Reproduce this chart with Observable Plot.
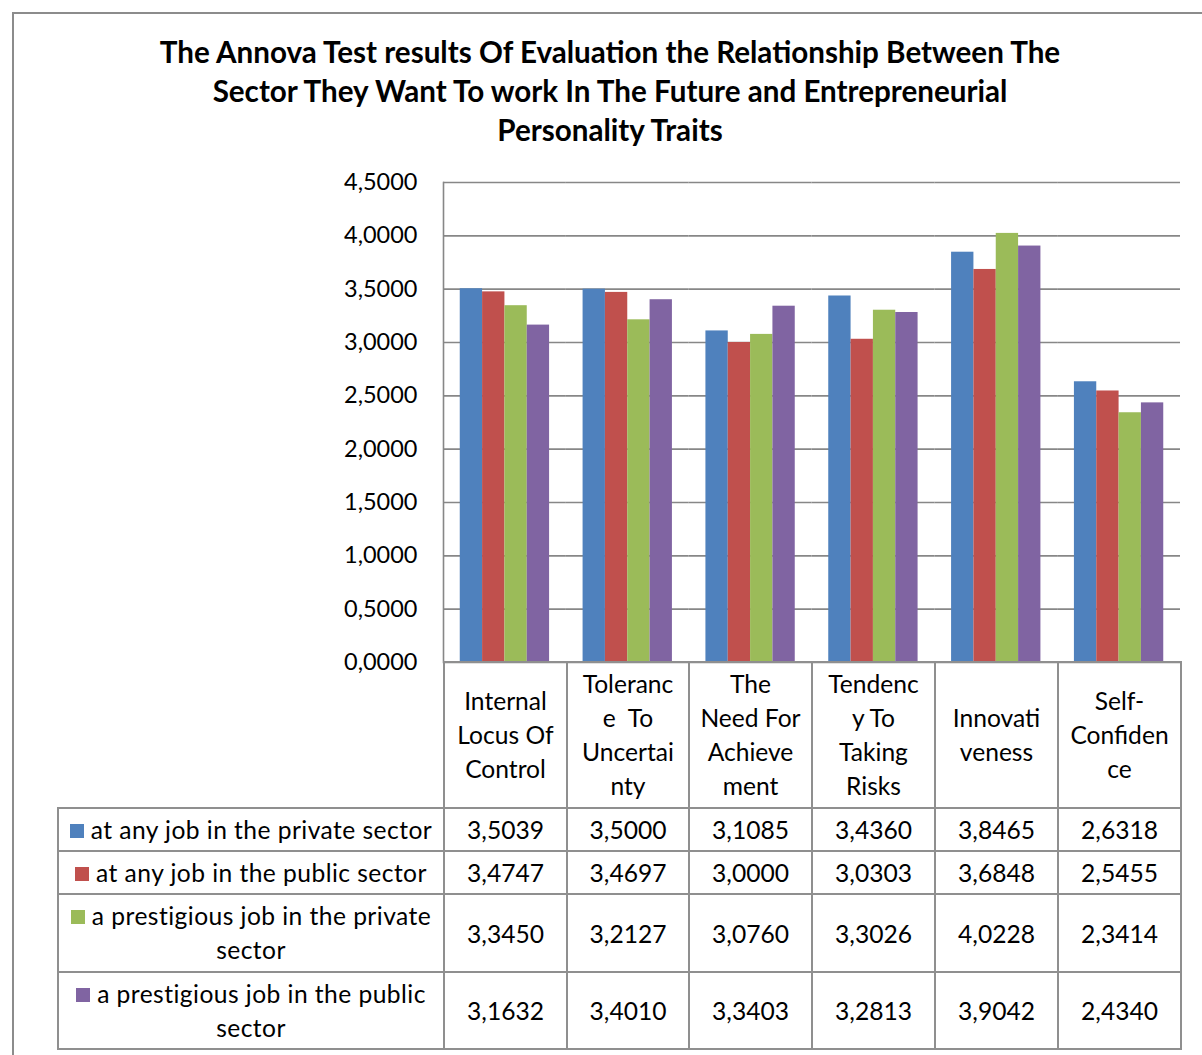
<!DOCTYPE html>
<html>
<head>
<meta charset="utf-8">
<script src="https://cdn.jsdelivr.net/npm/d3@7"></script>
<script src="https://cdn.jsdelivr.net/npm/@observablehq/plot@0.6"></script>
<style>
  body { margin: 0; background: #fff; font-family: Lato, "Open Sans", sans-serif; color: #000; }
  #page { position: relative; width: 1202px; height: 1055px; overflow: hidden; }
  #border { position: absolute; left: 12px; top: 12px; width: 1300px; height: 1200px; border: 2px solid #8c8c8c; }
  #title { position: absolute; left: 0; width: 1220px; top: 32px; text-align: center; font-weight: 700; font-size: 29.6px; line-height: 39px; white-space: nowrap; }
  #chart { position: absolute; left: 331px; top: 170px; }
  #table { position: absolute; left: 57px; top: 661px; border-collapse: collapse; table-layout: fixed; font-size: 24.6px; }
  #table td { border: 2px solid #8f8f8f; padding: 0; text-align: center; vertical-align: middle; }
  #table td.blank { border-top: none; border-left: none; }
  #table td.cat { line-height: 34px; }
  #table td.legend { line-height: 34px; letter-spacing: 0.45px; }
  .swatch { display: inline-block; width: 14px; height: 14px; margin-right: 7px; vertical-align: 1px; }
</style>
</head>
<body>
<div id="page">
  <div id="border"></div>
  <div id="title"></div>
  <div id="chart"></div>
  <table id="table"></table>
</div>
<script>
// Chart title, one entry per line
const titleLines = [
  "The Annova Test results Of Evaluation the Relationship Between The",
  "Sector They Want To work In The Future and Entrepreneurial",
  "Personality Traits"
];

// Personality traits (categories) and how their names wrap in the table header
const categories = [
  "Internal Locus Of Control",
  "Tolerance To Uncertainty",
  "The Need For Achievement",
  "Tendency To Taking Risks",
  "Innovativeness",
  "Self-Confidence"
];
const categoryLines = [
  ["Internal", "Locus Of", "Control"],
  ["Toleranc", "e\u00a0 To", "Uncertai", "nty"],
  ["The", "Need For", "Achieve", "ment"],
  ["Tendenc", "y To", "Taking", "Risks"],
  ["Innovati", "veness"],
  ["Self-", "Confiden", "ce"]
];

// Preferred future sector (series) and their colours
const seriesNames = [
  "at any job in the private sector",
  "at any job in the public sector",
  "a prestigious job in the private sector",
  "a prestigious job in the public sector"
];
const seriesColors = ["#4f81bd", "#c0504d", "#9bbb59", "#8064a2"];

// Mean scores, one array per series, in category order
const privateAny         = [3.5039, 3.5000, 3.1085, 3.4360, 3.8465, 2.6318];
const publicAny          = [3.4747, 3.4697, 3.0000, 3.0303, 3.6848, 2.5455];
const privatePrestigious = [3.3450, 3.2127, 3.0760, 3.3026, 4.0228, 2.3414];
const publicPrestigious  = [3.1632, 3.4010, 3.3403, 3.2813, 3.9042, 2.4340];
const seriesValues = [privateAny, publicAny, privatePrestigious, publicPrestigious];

// Y axis ticks
const yTicks = [0, 0.5, 1, 1.5, 2, 2.5, 3, 3.5, 4, 4.5];

// Decimal comma, four places
const fmt = d => d.toFixed(4).replace(".", ",");

// Long table built from the arrays above
const rows = [];
seriesNames.forEach((s, j) => {
  categories.forEach((c, i) => rows.push({category: c, series: s, value: seriesValues[j][i]}));
});

// Title
d3.select("#title").selectAll("div").data(titleLines).join("div").text(d => d);

// Grouped bar chart: one facet per trait, one bar per sector
const chart = Plot.plot({
  width: 859,
  height: 494,
  marginLeft: 112,
  marginRight: 10,
  marginTop: 12,
  marginBottom: 2,
  style: {fontFamily: "Lato, 'Open Sans', sans-serif", fontSize: "23.5px", color: "#000", background: "transparent", overflow: "visible"},
  fx: {domain: categories, padding: 0, round: false, axis: null},
  x: {domain: seriesNames, paddingInner: 0, paddingOuter: 0.75, round: false, axis: null},
  y: {domain: [0, 4.5], axis: null},
  color: {domain: seriesNames, range: seriesColors},
  marks: [
    Plot.gridY(yTicks, {stroke: "#878787", strokeOpacity: 1, strokeWidth: 1.6}),
    Plot.barY(rows, {fx: "category", x: "series", y: "value", fill: "series"}),
    Plot.frame({anchor: "left", facetAnchor: "left", stroke: "#878787", strokeWidth: 1.6}),
    Plot.axisY(yTicks, {tickSize: 0, tickPadding: 26, tickFormat: fmt, fontSize: 23.5, label: null, facetAnchor: "left"})
  ]
});
document.getElementById("chart").appendChild(chart);

// Data table under the chart, with legend swatches in the first column
const colWidths = [386, 123, 122, 123, 123, 123, 123];
const rowHeights = [43, 43, 78, 77];
const table = d3.select("#table");
table.append("colgroup").selectAll("col").data(colWidths).join("col").style("width", d => d + "px");

const header = table.append("tr").style("height", "146px");
header.append("td").attr("class", "blank");
header.selectAll("td.cat").data(categoryLines).join("td")
  .attr("class", "cat")
  .html(lines => lines.map(l => `<div>${l}</div>`).join(""));

seriesNames.forEach((s, j) => {
  const tr = table.append("tr").style("height", rowHeights[j] + "px");
  const lab = tr.append("td").attr("class", "legend");
  lab.append("span").attr("class", "swatch").style("background", seriesColors[j]);
  lab.append("span").text(s);
  tr.selectAll("td.val").data(seriesValues[j]).join("td").attr("class", "val").text(fmt);
});
</script>
</body>
</html>
